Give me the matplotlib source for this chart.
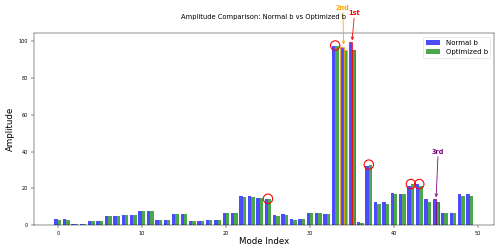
import matplotlib

matplotlib.use("Agg")
import matplotlib.pyplot as plt
import numpy as np

# amplitudes per mode
normal_b = [
    3.3, 3.3, 0.7, 0.7, 2.4, 2.4, 5.1, 5.1, 5.3, 5.3,
    7.6, 7.6, 2.7, 2.7, 5.8, 5.8, 2.2, 2.2, 2.9, 2.9,
    6.7, 6.7, 15.6, 15.6, 14.9, 14.3, 5.6, 5.8, 3.3, 3.3,
    6.7, 6.7, 5.8, 97.8, 97.2, 99.5, 1.4, 32.3, 12.4, 12.3,
    17.3, 17.1, 21.5, 22.3, 14.0, 14.0, 6.4, 6.4, 16.9, 16.9,
]
optimized_b = [
    2.9, 2.9, 0.6, 0.6, 2.4, 2.4, 4.9, 4.9, 5.3, 5.3,
    7.5, 7.5, 2.5, 2.5, 5.8, 5.8, 2.0, 2.0, 2.7, 2.7,
    6.5, 6.5, 15.3, 15.3, 14.5, 13.9, 5.1, 5.3, 2.9, 3.1,
    6.7, 6.7, 5.8, 97.6, 95.4, 95.4, 1.1, 32.9, 11.4, 11.5,
    17.1, 17.1, 22.3, 21.0, 12.4, 12.4, 6.4, 6.4, 16.0, 16.0,
]
circled_modes = [25, 33, 37, 42, 43]
ranked_modes = [35, 34, 45]
rank_labels = ["1st", "2nd", "3rd"]
rank_colors = ["red", "orange", "purple"]

DPI = 39.0625
fig, ax = plt.subplots(figsize=(12.8, 6.4), dpi=DPI)
fig.subplots_adjust(left=0.067, right=0.988, bottom=0.1, top=0.867)

x = np.arange(len(normal_b))
w = 0.4
nb = ax.bar(x - w / 2, normal_b, w, color="blue", alpha=0.7, label="Normal b")
ob = ax.bar(x + w / 2, optimized_b, w, color="green", alpha=0.7, label="Optimized b")

for m, col in zip(ranked_modes, rank_colors):
    for bars in (nb, ob):
        bars[m].set_edgecolor(col)
        bars[m].set_linewidth(2)

peaks = [max(normal_b[m], optimized_b[m]) for m in circled_modes]
ax.scatter(circled_modes, peaks, s=300, facecolors="none",
           edgecolors="red", linewidths=2, zorder=3)

text_pos = {"1st": (35.3, 115.5), "2nd": (33.9, 118.5), "3rd": (45.25, 40)}
for m, lab, col in zip(ranked_modes, rank_labels, rank_colors):
    ax.annotate(
        lab,
        xy=(m, normal_b[m] + 0.5),
        xytext=text_pos[lab],
        ha="center",
        va="center",
        color=col,
        fontsize=12,
        fontweight="bold",
        arrowprops=dict(arrowstyle="->", color=col, lw=1.5),
        annotation_clip=False,
    )

ax.tick_params(labelsize=9, length=6, pad=5)
ax.set_xlabel("Mode Index", fontsize=16, labelpad=2)
ax.set_ylabel("Amplitude", fontsize=16, labelpad=6)
ax.set_title("Amplitude Comparison: Normal b vs Optimized b", fontsize=12.5, pad=26)
ax.legend(loc="upper right", fontsize=13)

fig.savefig("out.png", dpi=DPI)
